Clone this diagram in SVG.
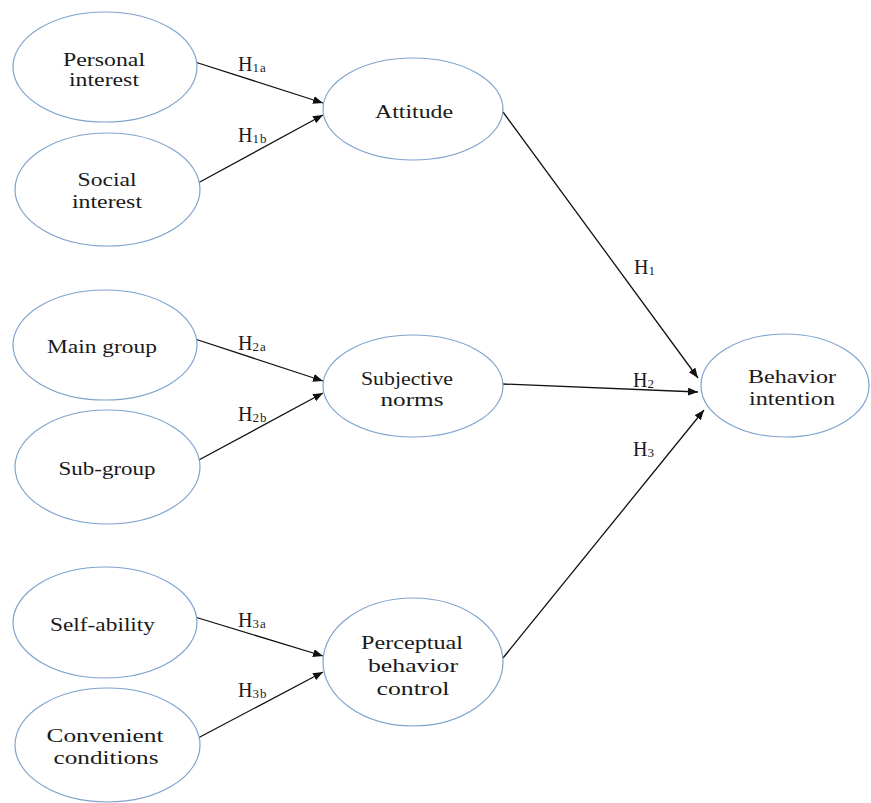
<svg xmlns="http://www.w3.org/2000/svg" width="871" height="803" viewBox="0 0 871 803">
<style>
.n{fill:#fff;stroke:#7fa3cc;stroke-width:1.2}
.t{font-family:"Liberation Serif","Times New Roman",serif;font-size:19px;fill:#1a1a1a;text-anchor:middle}
.h{font-family:"Liberation Serif","Times New Roman",serif;font-size:20px;fill:#1a1a1a}
.s{font-size:13px;letter-spacing:1px}
.c{stroke:#111;stroke-width:1.3;fill:none;marker-end:url(#ah)}
</style>
<defs>
<marker id="ah" markerUnits="userSpaceOnUse" markerWidth="11" markerHeight="9" refX="10" refY="4" orient="auto">
<path d="M0,0 L10,4 L0,8 z" fill="#111"/>
</marker>
</defs>
<rect width="871" height="803" fill="#fff"/>
<g id="connectors">
<line class="c" x1="195" y1="62" x2="323" y2="103"/>
<line class="c" x1="198" y1="183" x2="323" y2="115"/>
<line class="c" x1="195" y1="339" x2="323" y2="381"/>
<line class="c" x1="197" y1="461" x2="323" y2="393"/>
<line class="c" x1="195" y1="617" x2="323" y2="656"/>
<line class="c" x1="198" y1="738" x2="323" y2="672"/>
<line class="c" x1="503" y1="112" x2="698" y2="378"/>
<line class="c" x1="503" y1="384" x2="698" y2="392"/>
<line class="c" x1="503" y1="658" x2="704" y2="410"/>
<text class="h" x="238" y="71">H<tspan class="s" dy="1">1a</tspan></text>
<text class="h" x="238" y="142">H<tspan class="s" dy="1">1b</tspan></text>
<text class="h" x="238" y="350">H<tspan class="s" dy="1">2a</tspan></text>
<text class="h" x="238" y="421">H<tspan class="s" dy="1">2b</tspan></text>
<text class="h" x="238" y="627">H<tspan class="s" dy="1">3a</tspan></text>
<text class="h" x="238" y="697">H<tspan class="s" dy="1">3b</tspan></text>
<text class="h" x="634" y="274">H<tspan class="s" dy="1">1</tspan></text>
<text class="h" x="633" y="387">H<tspan class="s" dy="1">2</tspan></text>
<text class="h" x="633" y="456">H<tspan class="s" dy="1">3</tspan></text>
</g>
<g id="personal-interest">
<ellipse class="n" cx="105" cy="67" rx="92" ry="55"/>
<text class="t" x="104" y="66" textLength="82" lengthAdjust="spacingAndGlyphs">Personal</text>
<text class="t" x="104" y="86" textLength="70" lengthAdjust="spacingAndGlyphs">interest</text>
</g>
<g id="social-interest">
<ellipse class="n" cx="107.5" cy="189.5" rx="92.5" ry="56.5"/>
<text class="t" x="107" y="186" textLength="59" lengthAdjust="spacingAndGlyphs">Social</text>
<text class="t" x="107" y="208" textLength="70" lengthAdjust="spacingAndGlyphs">interest</text>
</g>
<g id="attitude">
<ellipse class="n" cx="413" cy="109" rx="90" ry="51"/>
<text class="t" x="414" y="118" textLength="78" lengthAdjust="spacingAndGlyphs">Attitude</text>
</g>
<g id="main-group">
<ellipse class="n" cx="105" cy="345" rx="92" ry="55"/>
<text class="t" x="102" y="353" textLength="110" lengthAdjust="spacingAndGlyphs">Main group</text>
</g>
<g id="sub-group">
<ellipse class="n" cx="107.5" cy="467" rx="92.5" ry="57"/>
<text class="t" x="107" y="475" textLength="97" lengthAdjust="spacingAndGlyphs">Sub-group</text>
</g>
<g id="subjective-norms">
<ellipse class="n" cx="413" cy="386" rx="90" ry="51"/>
<text class="t" x="407" y="385" textLength="92" lengthAdjust="spacingAndGlyphs">Subjective</text>
<text class="t" x="412" y="406" textLength="63" lengthAdjust="spacingAndGlyphs">norms</text>
</g>
<g id="self-ability">
<ellipse class="n" cx="105" cy="622.5" rx="92" ry="55.5"/>
<text class="t" x="102.5" y="631" textLength="105" lengthAdjust="spacingAndGlyphs">Self-ability</text>
</g>
<g id="convenient-conditions">
<ellipse class="n" cx="107.5" cy="745" rx="92.5" ry="57"/>
<text class="t" x="105" y="742" textLength="117" lengthAdjust="spacingAndGlyphs">Convenient</text>
<text class="t" x="106" y="764" textLength="105" lengthAdjust="spacingAndGlyphs">conditions</text>
</g>
<g id="perceptual-behavior-control">
<ellipse class="n" cx="413" cy="662" rx="90" ry="64"/>
<text class="t" x="412" y="649" textLength="102" lengthAdjust="spacingAndGlyphs">Perceptual</text>
<text class="t" x="413" y="672" textLength="90" lengthAdjust="spacingAndGlyphs">behavior</text>
<text class="t" x="413" y="695" textLength="73" lengthAdjust="spacingAndGlyphs">control</text>
</g>
<g id="behavior-intention">
<ellipse class="n" cx="785" cy="385.5" rx="84" ry="51.5"/>
<text class="t" x="792" y="383" textLength="88" lengthAdjust="spacingAndGlyphs">Behavior</text>
<text class="t" x="792" y="405" textLength="86" lengthAdjust="spacingAndGlyphs">intention</text>
</g>
</svg>
